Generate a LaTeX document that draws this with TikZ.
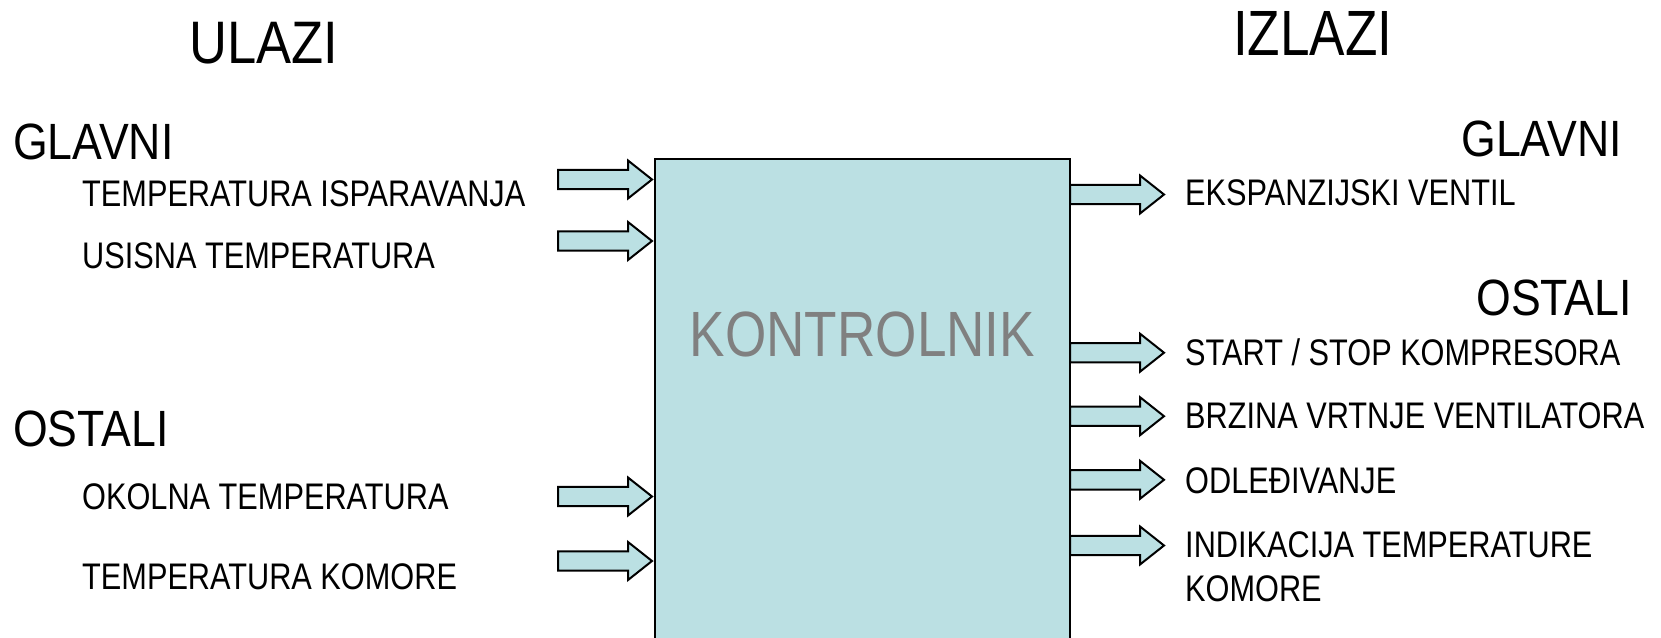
\documentclass[tikz,border=0pt]{standalone}
\usepackage{fontspec}
\setmainfont[FakeStretch=0.83]{Liberation Sans}
\newfontfamily\wideface[FakeStretch=0.875]{Liberation Sans}
\usepackage{tikz}
\usetikzlibrary{positioning}
\definecolor{boxcyan}{HTML}{BBE0E3}
\definecolor{labelgray}{HTML}{808080}

\begin{document}
\begin{tikzpicture}[x=1pt, y=-1pt, inner sep=0pt,
  title/.style={font=\wideface\fontsize{60}{62}\selectfont, anchor=base west},
  group/.style={font=\wideface\fontsize{51}{53}\selectfont},
  signal/.style={font=\fontsize{37}{44}\selectfont, anchor=base west, align=left},
  ctrlbox/.style={draw=black, line width=2pt, fill=boxcyan},
  ctrltext/.style={text=labelgray, font=\fontsize{64}{66}\selectfont},
  flow/.pic={\draw[fill=boxcyan, line width=2pt] (0,-9.7) -- (70,-9.7) -- (70,-19) -- (94,0) -- (70,19) -- (70,9.7) -- (0,9.7) -- cycle;}]
  \useasboundingbox (0,0) rectangle (1661,637);
  \clip (0,0) rectangle (1661,637);

  % headings
  \node[title] (ulazi) at (189,63.5) {ULAZI};
  \node[title, font=\fontsize{64}{66}\selectfont] (izlazi) at (1233,55) {IZLAZI};
  \node[group, anchor=base west] (inmain) at (13,159) {GLAVNI};
  \node[group, anchor=base west] (inother) at (13,446) {OSTALI};
  \node[group, anchor=base east] (outmain) at (1622,156.8) {GLAVNI};
  \node[group, anchor=base east] (outother) at (1632,315.7) {OSTALI};

  % inputs
  \node[signal] (tevap) at (82,206) {TEMPERATURA ISPARAVANJA};
  \node[signal] (tsuct) at (82,268) {USISNA TEMPERATURA};
  \node[signal] (tamb) at (82,509.5) {OKOLNA TEMPERATURA};
  \node[signal] (troom) at (82,589) {TEMPERATURA KOMORE};

  % controller
  \node[ctrlbox, minimum width=415pt, minimum height=560pt] (ctrl) at (862.5,439) {};
  \node[ctrltext, below=153.5pt of ctrl.north] (ctrlname) {KONTROLNIK};

  % outputs
  \node[signal] (valve) at (1185,205.5) {EKSPANZIJSKI VENTIL};
  \node[signal] (comp) at (1185,365) {START / STOP KOMPRESORA};
  \node[signal] (fan) at (1185,428.3) {BRZINA VRTNJE VENTILATORA};
  \node[signal] (defrost) at (1185,493) {ODLEĐIVANJE};
  \node[signal] (display) at (1185,601.7) {INDIKACIJA TEMPERATURE\\KOMORE};

  \foreach \y in {179.5,241,496.5,561}
    \pic at (558,\y) {flow};
  \foreach \y in {194.5,352.7,416.2,479.8,545.5}
    \pic at (1070,\y) {flow};
\end{tikzpicture}
\end{document}
